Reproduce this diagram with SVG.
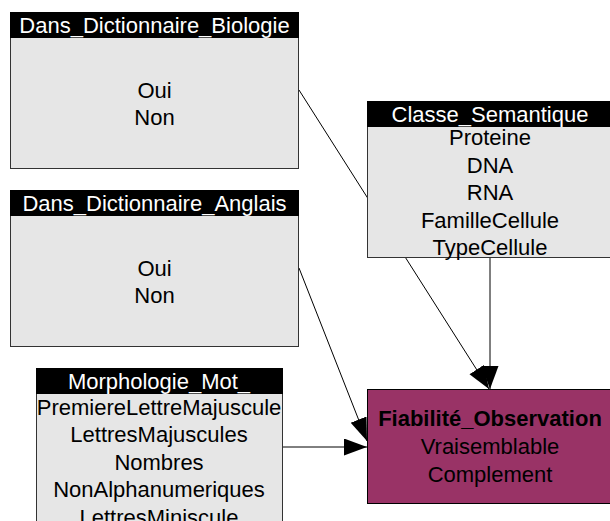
<svg xmlns="http://www.w3.org/2000/svg" width="610" height="521" viewBox="0 0 610 521">
<defs>
<style>
text{font-family:"Liberation Sans",Arial,sans-serif;font-size:22px;text-anchor:middle;fill:#000}
.hd{fill:#fff}
.box{fill:#e6e6e6;stroke:#333;stroke-width:1}
.bar{fill:#000}
.edge{stroke:#000;stroke-width:1;fill:none;marker-end:url(#ah)}
</style>
<marker id="ah" markerUnits="userSpaceOnUse" markerWidth="24" markerHeight="18" refX="23" refY="8.5" orient="auto" viewBox="0 0 24 18">
<path d="M0,0 L23,8.5 L0,17 z" fill="#000"/>
</marker>
</defs>
<g id="edges">
<line class="edge" x1="299" y1="90" x2="489" y2="389"/>
<line class="edge" x1="490" y1="257" x2="490" y2="389"/>
<line class="edge" x1="299" y1="268" x2="367" y2="441"/>
<line class="edge" x1="282" y1="447" x2="367" y2="447"/>
</g>
<g id="n_biologie">
<rect class="box" x="10.5" y="12.5" width="288" height="156"/>
<rect class="bar" x="10" y="12" width="289" height="26"/>
<text class="hd" x="154.5" y="33">Dans_Dictionnaire_Biologie</text>
<text x="154.5" y="98">Oui</text>
<text x="154.5" y="125">Non</text>
</g>
<g id="n_anglais">
<rect class="box" x="10.5" y="190.5" width="288" height="156"/>
<rect class="bar" x="10" y="190" width="289" height="26"/>
<text class="hd" x="154.5" y="211">Dans_Dictionnaire_Anglais</text>
<text x="154.5" y="276">Oui</text>
<text x="154.5" y="303">Non</text>
</g>
<g id="n_semantique">
<rect class="box" x="367.5" y="101.5" width="246" height="156"/>
<rect class="bar" x="367" y="101" width="247" height="26"/>
<text class="hd" x="490" y="122">Classe_Semantique</text>
<text x="490" y="145">Proteine</text>
<text x="490" y="172.5">DNA</text>
<text x="490" y="200">RNA</text>
<text x="490" y="227.5">FamilleCellule</text>
<text x="490" y="255">TypeCellule</text>
</g>
<g id="n_morphologie">
<rect class="box" x="36.5" y="368.5" width="246" height="160"/>
<rect class="bar" x="36" y="368" width="247" height="26"/>
<text class="hd" x="159" y="389">Morphologie_Mot_</text>
<text x="159" y="414.5">PremiereLettreMajuscule</text>
<text x="159" y="442">LettresMajuscules</text>
<text x="159" y="469.5">Nombres</text>
<text x="159" y="497">NonAlphanumeriques</text>
<text x="159" y="524.5">LettresMiniscule</text>
</g>
<g id="n_fiabilite">
<rect x="367.5" y="389.5" width="246" height="114" fill="#993366" stroke="#000" stroke-width="1"/>
<text x="490" y="426" font-weight="bold">Fiabilité_Observation</text>
<text x="490" y="454">Vraisemblable</text>
<text x="490" y="482">Complement</text>
</g>
</svg>
